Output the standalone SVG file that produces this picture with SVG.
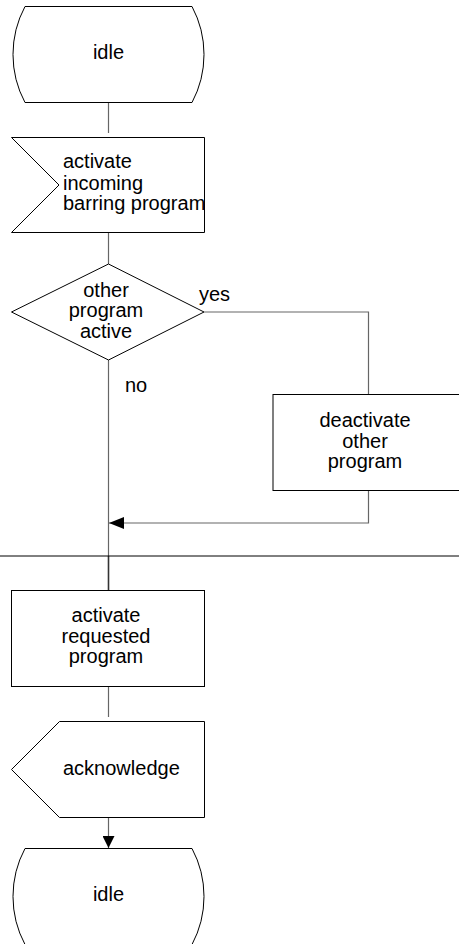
<svg xmlns="http://www.w3.org/2000/svg" width="459" height="944" viewBox="0 0 459 944">
<style>
.shape{fill:#fff;stroke:#000;stroke-width:1}
.conn{fill:none;stroke:#666;stroke-width:1.2}
.t{font-family:"Liberation Sans",Arial,sans-serif;font-size:20px;fill:#000}
.c{text-anchor:middle}
</style>
<defs>
<marker id="arr" markerWidth="15" markerHeight="12" refX="15" refY="6" orient="auto" markerUnits="userSpaceOnUse">
<path d="M0,0 L15,6 L0,12 Z" fill="#000"/>
</marker>
<marker id="arrD" markerWidth="12" markerHeight="12" refX="12" refY="6" orient="auto" markerUnits="userSpaceOnUse">
<path d="M0,0 L12,6 L0,12 Z" fill="#000"/>
</marker>
</defs>
<rect width="459" height="944" fill="#fff"/>
<g id="connectors">
<line class="conn" x1="108.5" y1="102" x2="108.5" y2="133"/>
<line class="conn" x1="108.5" y1="232" x2="108.5" y2="264"/>
<line class="conn" x1="108.5" y1="360" x2="108.5" y2="556"/>
<line x1="108.5" y1="556" x2="108.5" y2="590" stroke="#333" stroke-width="1.6"/>
<polyline class="conn" points="204,312 368.5,312 368.5,394.5"/>
<polyline class="conn" points="368.5,490.5 368.5,523 109,523" marker-end="url(#arr)"/>
<line class="conn" x1="108.5" y1="687" x2="108.5" y2="717"/>
<line class="conn" x1="108.5" y1="817" x2="108.5" y2="848" marker-end="url(#arrD)"/>
<line x1="0" y1="556" x2="459" y2="556" stroke="#000" stroke-width="1"/>
</g>
<g id="idle1">
<path class="shape" d="M25,6.5 L192,6.5 A102,102 0 0 1 192,102.5 L25,102.5 A102,102 0 0 1 25,6.5 Z"/>
<text class="t c" x="108.5" y="58.5">idle</text>
</g>
<g id="input">
<path class="shape" d="M11.5,137.5 L204.5,137.5 L204.5,232.5 L11.5,232.5 L59,185 Z"/>
<text class="t" x="63" y="168">activate</text>
<text class="t" x="63" y="189.5">incoming</text>
<text class="t" x="63" y="210">barring program</text>
</g>
<g id="decision">
<path class="shape" d="M108.5,264 L204,312 L108.5,360 L11.5,312 Z"/>
<text class="t c" x="106" y="296.5">other</text>
<text class="t c" x="106" y="317">program</text>
<text class="t c" x="106" y="337.5">active</text>
<text class="t" x="199" y="300.5">yes</text>
<text class="t" x="125" y="391.5">no</text>
</g>
<g id="deactivate">
<rect class="shape" x="273" y="394.5" width="190" height="96"/>
<text class="t c" x="365" y="427">deactivate</text>
<text class="t c" x="365" y="447.5">other</text>
<text class="t c" x="365" y="468">program</text>
</g>
<g id="activate">
<rect class="shape" x="11.5" y="590.5" width="193" height="96"/>
<text class="t c" x="106" y="622">activate</text>
<text class="t c" x="106" y="642.5">requested</text>
<text class="t c" x="106" y="663">program</text>
</g>
<g id="output">
<path class="shape" d="M59.5,721.5 L204.5,721.5 L204.5,817.5 L59.5,817.5 L11.5,769.5 Z"/>
<text class="t" x="63" y="775">acknowledge</text>
</g>
<g id="idle2">
<path class="shape" d="M25,848.5 L192,848.5 A102,102 0 0 1 192,944.5 L25,944.5 A102,102 0 0 1 25,848.5 Z"/>
<text class="t c" x="108.5" y="900.5">idle</text>
</g>
</svg>
